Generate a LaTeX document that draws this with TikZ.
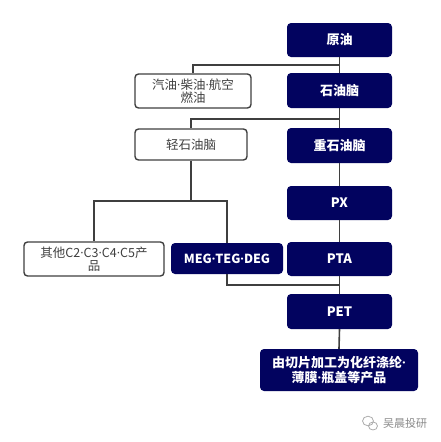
\documentclass[tikz,border=0pt]{standalone}
\usepackage{fontspec}
\setmainfont{Noto Sans CJK SC}
\newfontfamily\latf{Open Sans}
\newcommand{\md}{{\latf ·}}
\definecolor{navy}{HTML}{02035F}
\definecolor{linec}{HTML}{3F3F3F}
\definecolor{txtgray}{HTML}{404040}
\definecolor{wm}{HTML}{8A8A8A}
\begin{document}
\begin{tikzpicture}[x=1pt,y=-1pt,
  darkbox/.style={draw=none,fill=navy,rounded corners=4pt,text=white,font=\fontsize{13}{14.5}\selectfont\bfseries,align=center,inner sep=0pt},
  lightbox/.style={draw=linec,line width=1.4pt,fill=white,rounded corners=3.5pt,text=txtgray,font=\fontsize{12.5}{13.5}\selectfont,align=center,inner sep=0pt},
  conn/.style={draw=linec,line width=1.6pt}]
\useasboundingbox (0,0) rectangle (440,442);
\fill[white] (0,0) rectangle (440,442);
% main column
\node[darkbox,minimum width=105pt,minimum height=34pt] (yy) at (339.5,40) {原油};
\node[darkbox,minimum width=105pt,minimum height=35pt] (sny) at (339.5,90.5) {石油脑};
\node[darkbox,minimum width=105pt,minimum height=35pt] (zsn) at (339.5,145.5) {重石油脑};
\node[darkbox,minimum width=105pt,minimum height=34pt] (px) at (339.5,203) {PX};
\node[darkbox,minimum width=105pt,minimum height=34pt] (pta) at (339.5,259) {PTA};
\node[darkbox,minimum width=105pt,minimum height=35pt] (pet) at (339.5,311.5) {PET};
\node[darkbox,minimum width=158pt,minimum height=42pt] (prod) at (339,370) {由切片加工为化纤涤纶\md\\薄膜\md 瓶盖等产品};
% side boxes
\node[lightbox,minimum width=116pt,minimum height=34pt] (qy) at (193,91) {汽油\md 柴油\md 航空\\燃油};
\node[lightbox,minimum width=112pt,minimum height=31pt] (qsn) at (191,144.5) {轻石油脑};
\node[lightbox,minimum width=140pt,minimum height=34pt] (qt) at (94,259) {其他C2\md C3\md C4\md C5产\\品};
\node[darkbox,minimum width=112pt,minimum height=31pt,font=\fontsize{12.5}{14}\selectfont\bfseries] (meg) at (227,258.5) {MEG\md TEG\md DEG};
% junctions
\coordinate (j1) at (339.5,65);
\coordinate (j2) at (339.5,119);
\coordinate (j3) at (191,201);
\coordinate (j4) at (339.5,285);
% connectors
\draw[conn] (yy.south) -- (sny.north);
\draw[conn] (sny.south) -- (zsn.north);
\draw[conn] (zsn.south) -- (px.north);
\draw[conn] (px.south) -- (pta.north);
\draw[conn] (pta.south) -- (pet.north);
\draw[conn] (pet.south) -- (prod.north);
\draw[conn] (j1) -| (qy.north);
\draw[conn] (j2) -| (qsn.north);
\draw[conn] (qsn.south) -- (j3);
\draw[conn] (j3) -| (qt.north);
\draw[conn] (j3) -| (meg.north);
\draw[conn] (meg.south) |- (j4);
% watermark
\begin{scope}[draw=wm!70,line width=0.8pt]
\draw (368,421) circle[x radius=5.5pt,y radius=4.8pt];
\draw (373,426) circle[x radius=4.5pt,y radius=4pt];
\end{scope}
\node[text=wm,font=\fontsize{11}{12}\selectfont,inner sep=0pt] (wmk) at (405,423) {吴晨投研};
\end{tikzpicture}
\end{document}
